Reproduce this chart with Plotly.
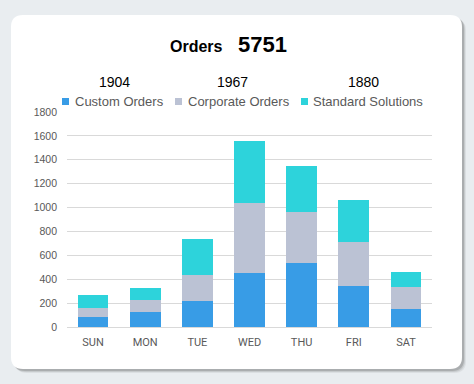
import plotly.graph_objects as go

days = ["SUN", "MON", "TUE", "WED", "THU", "FRI", "SAT"]
custom_orders = [82, 124, 217, 452, 536, 343, 150]
corporate_orders = [76, 101, 218, 590, 430, 370, 182]
standard_solutions = [109, 101, 302, 512, 378, 353, 125]
series_names = ["Custom Orders", "Corporate Orders", "Standard Solutions"]
series_colors = ["#389CE6", "#BBC2D4", "#2DD3DB"]
y_ticks = [0, 200, 400, 600, 800, 1000, 1200, 1400, 1600, 1800]

series_values = [custom_orders, corporate_orders, standard_solutions]
series_totals = [sum(v) for v in series_values]
grand_total = sum(series_totals)

W, H = 474, 384
ML, MR, MT, MB = 67, 42, 112, 57
PW, PH = W - ML - MR, H - MT - MB


def px(x):
    return (x - ML) / PW


def py(y):
    return (H - MB - y) / PH


def rounded_rect(x0, y0, x1, y1, r):
    pts = [
        f"M {px(x0 + r)},{py(y0)}",
        f"L {px(x1 - r)},{py(y0)}",
        f"Q {px(x1)},{py(y0)} {px(x1)},{py(y0 + r)}",
        f"L {px(x1)},{py(y1 - r)}",
        f"Q {px(x1)},{py(y1)} {px(x1 - r)},{py(y1)}",
        f"L {px(x0 + r)},{py(y1)}",
        f"Q {px(x0)},{py(y1)} {px(x0)},{py(y1 - r)}",
        f"L {px(x0)},{py(y0 + r)}",
        f"Q {px(x0)},{py(y0)} {px(x0 + r)},{py(y0)}",
        "Z",
    ]
    return " ".join(pts)


fig = go.Figure()
for name, vals, col in zip(series_names, series_values, series_colors):
    fig.add_trace(go.Bar(x=days, y=vals, name=name, marker_color=col,
                         marker_line_width=0, showlegend=False))

shapes = []
# shadow layers
for off, alpha in [(4, 0.08), (3, 0.13), (2, 0.2)]:
    shapes.append(dict(type="path", xref="paper", yref="paper", layer="below",
                       path=rounded_rect(11 + off, 15 + off, 462 + off, 369 + off, 12),
                       fillcolor=f"rgba(60,60,60,{alpha})", line_width=0))
shapes.append(dict(type="path", xref="paper", yref="paper", layer="below",
                   path=rounded_rect(11, 15, 462, 369, 12),
                   fillcolor="white", line_width=0))

annotations = []
font = "Liberation Sans, Arial, sans-serif"
annotations.append(dict(text="<b>Orders</b>", x=px(196), y=py(46), xref="paper", yref="paper",
                        xanchor="center", yanchor="middle", showarrow=False,
                        font=dict(size=16, color="black", family=font)))
annotations.append(dict(text=f"<b>{grand_total}</b>", x=px(262), y=py(45), xref="paper", yref="paper",
                        xanchor="center", yanchor="middle", showarrow=False,
                        font=dict(size=22, color="black", family=font)))
for tot, cx in zip(series_totals, [114.5, 232.5, 363]):
    annotations.append(dict(text=str(tot), x=px(cx), y=py(82), xref="paper", yref="paper",
                            xanchor="center", yanchor="middle", showarrow=False,
                            font=dict(size=14, color="black", family=font)))

# manual legend
for name, col, sq_x, tx_x in zip(series_names, series_colors, [62, 175, 301], [74, 187, 312]):
    shapes.append(dict(type="rect", xref="paper", yref="paper", layer="above",
                       x0=px(sq_x), x1=px(sq_x + 7), y0=py(98), y1=py(105),
                       fillcolor=col, line_width=0))
    annotations.append(dict(text=name, x=px(tx_x - 1), y=py(102), xref="paper", yref="paper",
                            xanchor="left", yanchor="middle", showarrow=False,
                            font=dict(size=13, color="#595959", family=font)))

fig.update_layout(
    width=W, height=H,
    margin=dict(l=ML, r=MR, t=MT, b=MB),
    paper_bgcolor="#E9EDF0",
    plot_bgcolor="rgba(0,0,0,0)",
    barmode="stack",
    bargap=0.41,
    shapes=shapes,
    annotations=annotations,
    xaxis=dict(showgrid=False, showline=True, linecolor="#D9D9D9", linewidth=1,
               ticks="", tickfont=dict(size=11, color="#595959", family="Roboto, sans-serif"),
               ticklabelstandoff=5),
    yaxis=dict(range=[0, 1800], tickvals=y_ticks, showgrid=True, gridcolor="#D9D9D9",
               gridwidth=1, zeroline=False, showline=False, ticks="",
               tickfont=dict(size=10.5, color="#595959", family=font),
               ticklabelstandoff=9),
)

fig.write_html(
    "out.html",
    config={"displayModeBar": False},
    post_script="document.body.style.margin='0';document.body.style.overflow='hidden';"
                "document.body.style.background='#E9EDF0';",
)
